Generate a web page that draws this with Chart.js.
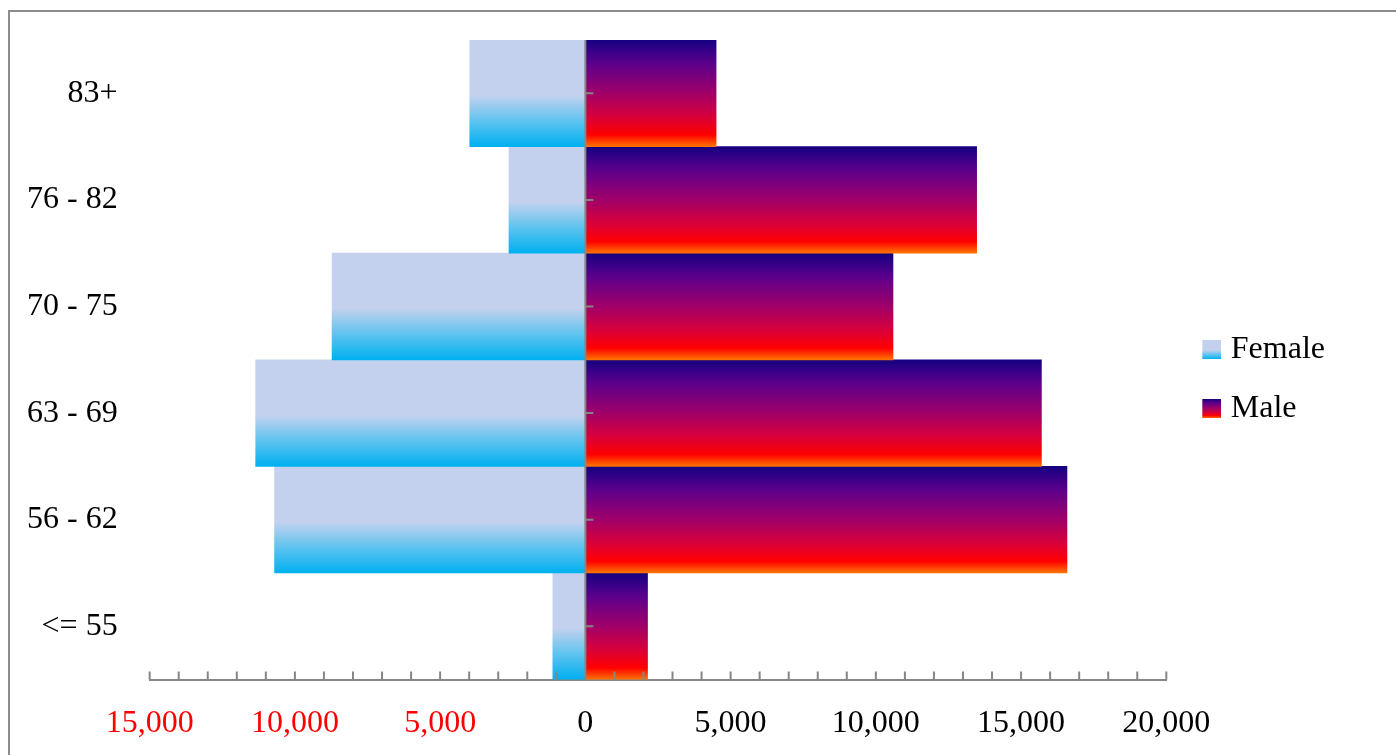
<!DOCTYPE html>
<html>
<head>
<meta charset="utf-8">
<title>Population pyramid</title>
<script src="https://cdn.jsdelivr.net/npm/chart.js@4.4.1/dist/chart.umd.min.js"></script>
<style>
    html, body { margin: 0; padding: 0; background: #fff; overflow: hidden; }
    #wrap { position: relative; width: 1396px; height: 755px; }
    #frame {
        position: absolute; left: 8px; top: 10px; width: 1600px; height: 900px;
        border-left: 2px solid #8c8c8c; border-top: 2px solid #8c8c8c;
        pointer-events: none;
    }
</style>
</head>
<body>
<div id="wrap">
    <canvas id="pyramidChart" width="1396" height="755"></canvas>
    <div id="frame"></div>
</div>
<script>
// Age groups, bottom to top
const ageGroups = ['<= 55', '56 - 62', '63 - 69', '70 - 75', '76 - 82', '83+'];
const femaleCounts = [1120, 10700, 11350, 8720, 2630, 3980];
const maleCounts = [2140, 16580, 15700, 10590, 13470, 4500];
// Labelled values on the bottom axis
const axisLabels = [-15000, -10000, -5000, 0, 5000, 10000, 15000, 20000];

const FONT = "'Liberation Serif', 'Times New Roman', serif";
const AXIS_GREY = '#868686';

const femaleStops = [[0, '#C3D1EE'], [0.52, '#C3D1EE'], [0.75, '#62C4EF'], [1, '#00B0F0']];
const maleStops = [[0, '#140080'], [0.22, '#5C008C'], [0.5, '#A00068'],
                   [0.72, '#D8003A'], [0.89, '#FF0000'], [1, '#FF7400']];

// Gradient over the height of the bar's category band
function bandGradient(context, stops) {
    const chart = context.chart;
    const yScale = chart.scales.y;
    if (!chart.chartArea || !yScale) return stops[0][1];
    const centre = yScale.getPixelForValue(context.dataIndex);
    const half = Math.abs(yScale.getPixelForValue(1) - yScale.getPixelForValue(0)) / 2;
    const grad = chart.ctx.createLinearGradient(0, centre - half, 0, centre + half);
    stops.forEach(([pos, col]) => grad.addColorStop(pos, col));
    return grad;
}

// Small gradient square for the legend (left part left blank as spacing)
function legendSwatch(stops) {
    const c = document.createElement('canvas');
    c.width = 35;
    c.height = 19;
    const g = c.getContext('2d');
    const grad = g.createLinearGradient(0, 0, 0, 19);
    stops.forEach(([pos, col]) => grad.addColorStop(pos, col));
    g.fillStyle = grad;
    g.fillRect(16, 0, 19, 19);
    return c;
}

// Zero line with its ticks, and upward tick marks on the bottom axis
const axisMarks = {
    id: 'axisMarks',
    afterDatasetsDraw(chart) {
        const {ctx, chartArea, scales: {x, y}} = chart;
        const zero = x.getPixelForValue(0);
        ctx.save();
        ctx.strokeStyle = AXIS_GREY;
        ctx.lineWidth = 2;
        ctx.beginPath();
        ctx.moveTo(zero, chartArea.top);
        ctx.lineTo(zero, chartArea.bottom);
        ageGroups.forEach((g, i) => {
            const py = y.getPixelForValue(i);
            ctx.moveTo(zero, py);
            ctx.lineTo(zero + 8, py);
        });
        x.ticks.forEach(t => {
            const px = x.getPixelForValue(t.value);
            ctx.moveTo(px, chartArea.bottom);
            ctx.lineTo(px, chartArea.bottom - 8);
        });
        ctx.stroke();
        ctx.restore();
    }
};

function initializeChart() {
    const ctx = document.getElementById('pyramidChart').getContext('2d');
    new Chart(ctx, {
        type: 'bar',
        data: {
            labels: ageGroups,
            datasets: [{
                label: 'Female',
                data: femaleCounts.map(v => -v),
                backgroundColor: c => bandGradient(c, femaleStops),
                borderWidth: 0,
                barPercentage: 1,
                categoryPercentage: 1
            }, {
                label: 'Male',
                data: maleCounts,
                backgroundColor: c => bandGradient(c, maleStops),
                borderWidth: 0,
                barPercentage: 1,
                categoryPercentage: 1
            }]
        },
        options: {
            indexAxis: 'y',
            responsive: false,
            animation: false,
            layout: {
                padding: { top: 40, left: 27, right: 61, bottom: 12 }
            },
            scales: {
                x: {
                    type: 'linear',
                    stacked: true,
                    min: axisLabels[0],
                    max: axisLabels[axisLabels.length - 1],
                    // hidden tick length is used as the gap to the labels
                    grid: { display: false, drawTicks: true, tickLength: 25 },
                    border: { display: true, color: AXIS_GREY, width: 2 },
                    ticks: {
                        stepSize: 1000,
                        autoSkip: false,
                        maxRotation: 0,
                        padding: 0,
                        font: { family: FONT, size: 32 },
                        color: c => c.tick && c.tick.value < 0 ? '#FF0000' : '#000000',
                        callback: v => axisLabels.includes(v) ? Math.abs(v).toLocaleString('en-US') : ''
                    }
                },
                y: {
                    stacked: true,
                    reverse: true,
                    grid: { display: false, drawTicks: true, tickLength: 32 },
                    border: { display: false },
                    ticks: {
                        padding: 0,
                        color: '#000000',
                        font: { family: FONT, size: 32 }
                    }
                }
            },
            plugins: {
                tooltip: { enabled: false },
                legend: {
                    position: 'right',
                    fullSize: false,
                    // empty title only pushes the two entries down a little
                    title: { display: true, text: '', font: { size: 1, lineHeight: 1 }, padding: { top: 37.5, bottom: 0 } },
                    labels: {
                        usePointStyle: true,
                        pointStyleWidth: 22,
                        padding: 26.5,
                        color: '#000000',
                        font: { family: FONT, size: 32 },
                        generateLabels: () => [
                            { text: 'Female', pointStyle: legendSwatch(femaleStops), fillStyle: '#C3D1EE',
                              fontColor: '#000000', strokeStyle: 'transparent', lineWidth: 0, datasetIndex: 0 },
                            { text: 'Male', pointStyle: legendSwatch(maleStops), fillStyle: '#140080',
                              fontColor: '#000000', strokeStyle: 'transparent', lineWidth: 0, datasetIndex: 1 }
                        ]
                    }
                }
            }
        },
        plugins: [axisMarks]
    });
}

document.addEventListener('DOMContentLoaded', initializeChart);
</script>
</body>
</html>
